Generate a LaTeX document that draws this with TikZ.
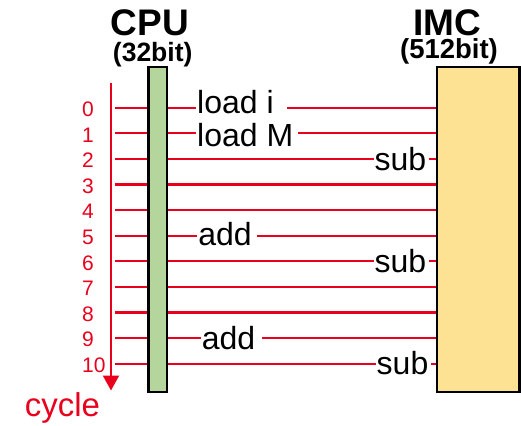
\documentclass[tikz,border=0pt]{standalone}
\usepackage{fontspec}
\setmainfont{Liberation Sans}
\usetikzlibrary{arrows.meta}
\definecolor{cred}{RGB}{232,0,28}
\definecolor{cgreen}{RGB}{180,214,156}
\definecolor{cyellow}{RGB}{252,226,146}
\begin{document}
\begin{tikzpicture}[x=1pt,y=-1pt,
  redline/.style={draw=cred,line width=2.2pt},
  bar/.style={draw=black,line width=2.5pt,inner sep=0pt},
  num/.style={text=cred,font=\fontsize{21}{21}\selectfont,anchor=base west,inner sep=0pt},
  op/.style={fill=white,font=\fontsize{32}{32}\selectfont,inner xsep=1pt,inner ysep=0pt},
  head/.style={font=\fontsize{37}{37}\selectfont\bfseries,anchor=base,inner sep=0pt},
  bits/.style={font=\fontsize{26.5}{26.5}\selectfont\bfseries,anchor=base,inner sep=0pt}]
\useasboundingbox (0,0) rectangle (521,425);
% headers
\node[head] (cpuh) at (150,36) {CPU};
\node[bits] (cpub) at (152.7,61.5) {(32bit)};
\node[head] (imch) at (447.5,36) {IMC};
\node[bits,font=\fontsize{27.5}{27.5}\selectfont\bfseries] (imcb) at (449,58.8) {(512bit)};
% bars
\node[bar,fill=cgreen,minimum width=18.5pt,minimum height=324.5pt] (cpu) at (157.5,229.5) {};
\node[bar,fill=cyellow,minimum width=82.5pt,minimum height=324.5pt] (imc) at (478,229.5) {};
% cycle rows
\foreach \k in {0,...,10}{
  \coordinate (r\k) at (115,{107.7+25.6*\k});
  \draw[redline] (r\k) -- (cpu.west |- r\k);
  \draw[redline] (cpu.east |- r\k) -- (imc.west |- r\k);
  \node[num] (n\k) at (82,{116.4+25.6*\k}) {\k};
}
% time axis
\coordinate (atop) at (111,83);
\coordinate (abot) at (111,390.5);
\draw[cred,line width=2pt,-{Triangle[width=16pt,length=15pt]}] (atop) -- (abot);
\node[text=cred,font=\fontsize{33}{33}\selectfont,anchor=base,inner sep=0pt] (cyc) at (62.5,416.7) {cycle};
% operation labels
\node[op,anchor=base west] (op0) at (196,113.3) {load i\ \kern3pt};
\node[op,anchor=base west] (op1) at (196,146.7) {load M\kern3.5pt};
\node[op,anchor=base east] (op2) at (429.3,170) {sub\kern2pt};
\node[op,anchor=base west] (op5) at (197.2,245) {add\kern4pt};
\node[op,anchor=base east] (op6) at (429.3,272.7) {sub\kern2pt};
\node[op,anchor=base west] (op9) at (200.6,349.3) {add\kern6pt};
\node[op,anchor=base east] (op10) at (431.5,374.3) {sub\kern2pt};
\end{tikzpicture}
\end{document}
